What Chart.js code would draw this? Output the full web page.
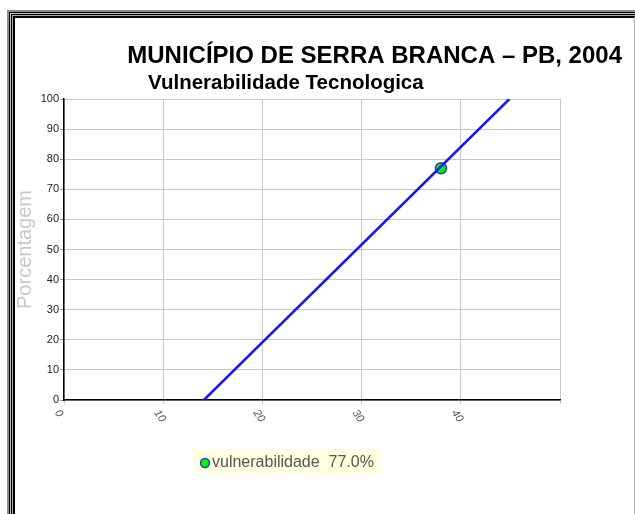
<!DOCTYPE html>
<html>
<head>
<meta charset="utf-8">
<title>Vulnerabilidade Tecnologica</title>
<script src="https://cdn.jsdelivr.net/npm/chart.js@4/dist/chart.umd.min.js"></script>
<style>
  html, body { margin: 0; padding: 0; background: #fff; }
  canvas { display: block; }
</style>
</head>
<body>
<canvas id="chart" width="635" height="514"></canvas>
<script>
const chartTitle = 'MUNICÍPIO DE SERRA BRANCA – PB, 2004';
const chartSubtitle = 'Vulnerabilidade Tecnologica';
const yAxisTitle = 'Porcentagem';

// the trend line
const lineX = [14.1, 44.9];
const lineY = [0, 100];

// the marked point
const seriesLabel = 'vulnerabilidade';
const pointX = [38.0];
const pointY = [77.0];

const xTickLabels = [0, 10, 20, 30, 40];
const yTickLabels = [0, 10, 20, 30, 40, 50, 60, 70, 80, 90, 100];

const toPoints = (xs, ys) => xs.map((x, i) => ({ x, y: ys[i] }));

const framePlugin = {
  id: 'frame',
  beforeDraw(chart) {
    const { ctx, width, height } = chart;
    ctx.save();
    ctx.fillStyle = '#fff';
    ctx.fillRect(0, 0, width, height);
    // double border on the left and top
    const bands = [['#8c8c8c', 2], ['#000', 1], ['#c4c4c4', 1], ['#000', 1], ['#a8a8a8', 1], ['#000', 2]];
    let off = 7;
    bands.forEach(([color, size]) => {
      ctx.fillStyle = color;
      ctx.fillRect(off, off + 3, size, height);
      ctx.fillRect(off, off + 3, width, size);
      off += size;
    });
    ctx.fillStyle = '#b4b4b4';
    ctx.fillRect(width - 1, 17, 1, height);
    ctx.restore();
  },
  afterDraw(chart) {
    const { ctx } = chart;
    const xScale = chart.scales.x;
    const yScale = chart.scales.y;
    ctx.save();

    // titles
    ctx.fillStyle = '#000';
    ctx.textBaseline = 'alphabetic';
    ctx.textAlign = 'right';
    ctx.font = 'bold 24px "Liberation Sans", Arial, sans-serif';
    ctx.fillText(chartTitle, 622, 63);
    ctx.textAlign = 'left';
    ctx.font = 'bold 20.5px "Liberation Sans", Arial, sans-serif';
    ctx.fillText(chartSubtitle, 148, 89);

    // rotated x tick labels
    ctx.font = 'italic 11px "Liberation Sans", Arial, sans-serif';
    ctx.fillStyle = '#555';
    ctx.textAlign = 'left';
    ctx.textBaseline = 'middle';
    xTickLabels.forEach((value) => {
      const px = xScale.getPixelForValue(value);
      ctx.save();
      ctx.translate(px - 7, yScale.bottom + 11);
      ctx.rotate(Math.PI * 55 / 180);
      ctx.fillText(String(value), 0, 0);
      ctx.restore();
    });

    // legend box
    const ds = chart.data.datasets[1];
    const text = `${ds.label}  ${pointY[0].toFixed(1)}%`;
    ctx.font = '16px "Liberation Sans", Arial, sans-serif';
    const boxX = 193;
    const boxY = 449;
    const textW = ctx.measureText(text).width;
    ctx.fillStyle = '#ffffe0';
    ctx.fillRect(boxX, boxY, textW + 25, 25);
    ctx.beginPath();
    ctx.arc(boxX + 12, boxY + 14, 4.5, 0, Math.PI * 2);
    ctx.fillStyle = ds.backgroundColor;
    ctx.fill();
    ctx.lineWidth = 1.5;
    ctx.strokeStyle = ds.borderColor;
    ctx.stroke();
    ctx.fillStyle = '#555';
    ctx.textBaseline = 'middle';
    ctx.fillText(text, boxX + 19, boxY + 14);

    ctx.restore();
  }
};

new Chart(document.getElementById('chart'), {
  type: 'scatter',
  data: {
    datasets: [{
      label: 'trend',
      data: toPoints(lineX, lineY),
      showLine: true,
      borderColor: '#1414ff',
      borderWidth: 2.5,
      pointRadius: 0,
      pointHoverRadius: 0,
      fill: false
    }, {
      label: seriesLabel,
      data: toPoints(pointX, pointY),
      backgroundColor: '#00f400',
      borderColor: '#2a3fc0',
      borderWidth: 1.5,
      pointRadius: 5.5
    }]
  },
  options: {
    responsive: false,
    animation: false,
    layout: { padding: { left: 0, top: 99, right: 75, bottom: 0 } },
    plugins: {
      legend: { display: false },
      title: { display: false },
      tooltip: { enabled: false }
    },
    scales: {
      x: {
        type: 'linear',
        min: 0,
        max: 50,
        afterFit: (scale) => { scale.height = 114; },
        ticks: { display: false, stepSize: 5 },
        grid: {
          color: (c) => (c.tick && c.tick.value % 10 === 0 ? '#c8c8c8' : 'rgba(0,0,0,0)'),
          tickColor: (c) => (c.tick && c.tick.value % 10 === 0 ? '#c8c8c8' : 'rgba(0,0,0,0)'),
          tickLength: 4
        },
        border: { color: '#000', width: 1.5 }
      },
      y: {
        min: 0,
        max: 100,
        afterFit: (scale) => { scale.width = 64; },
        ticks: {
          stepSize: 5,
          padding: 1,
          color: '#222',
          font: { family: '"Liberation Sans", Arial, sans-serif', size: 11 },
          callback: (v) => (yTickLabels.includes(v) ? String(v) : '')
        },
        grid: {
          color: (c) => (c.tick && c.tick.value % 10 === 0 ? '#c8c8c8' : 'rgba(0,0,0,0)'),
          tickColor: (c) => (c.tick && c.tick.value % 10 === 0 ? '#999' : '#ccc'),
          tickLength: 4
        },
        border: { color: '#000', width: 1.5 },
        title: {
          display: true,
          text: yAxisTitle,
          color: '#c8c8c8',
          font: { family: '"Liberation Sans", Arial, sans-serif', size: 20 },
          padding: { top: 13, bottom: 0 }
        }
      }
    }
  },
  plugins: [framePlugin]
});
</script>
</body>
</html>
